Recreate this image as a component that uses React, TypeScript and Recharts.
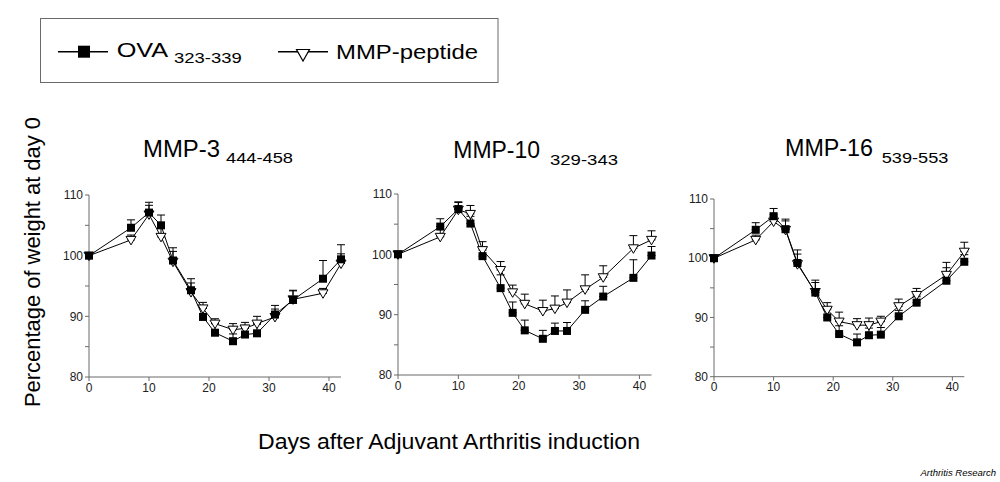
import { LineChart, Line, XAxis, YAxis, ErrorBar } from "recharts"

const days = [0, 7, 10, 12, 14, 17, 19, 21, 24, 26, 28, 31, 34, 39, 42]

// MMP-3 444-458
const mmp3Ova = [100, 104.6, 107.1, 105.0, 99.2, 94.3, 89.9, 87.3, 85.9, 87.0, 87.2, 90.3, 92.7, 96.2, 99.4]
const mmp3OvaErr = [0.3, 1.3, 1.7, 1.7, 1.5, 1.9, 1.5, 1.5, 1.2, 1.5, 1.5, 1.5, 1.6, 3.0, 2.4]
const mmp3Pep = [100, 102.6, 106.8, 103.1, 99.0, 94.0, 91.3, 88.8, 87.8, 88.0, 88.8, 89.9, 92.8, 93.8, 98.7]
const mmp3PepErr = [0.3, 0.8, 1.5, 1.5, 2.3, 1.5, 1.0, 0.8, 1.0, 1.0, 1.2, 1.3, 1.4, 0.8, 1.6]

// MMP-10 329-343
const mmp10Ova = [100, 104.6, 107.5, 105.1, 99.7, 94.4, 90.3, 87.4, 86.0, 87.3, 87.3, 90.8, 93.0, 96.1, 99.8]
const mmp10OvaErr = [0.3, 1.3, 1.2, 1.2, 1.5, 2.2, 1.8, 1.7, 1.4, 1.3, 1.4, 1.5, 1.7, 3.0, 1.5]
const mmp10Pep = [100, 102.9, 107.4, 106.7, 100.7, 97.4, 93.7, 91.8, 90.6, 91.0, 92.0, 94.2, 96.2, 101.0, 102.4]
const mmp10PepErr = [0.5, 1.3, 1.2, 1.4, 1.4, 1.4, 1.2, 1.6, 1.8, 2.1, 2.1, 2.4, 1.9, 2.1, 1.5]

// MMP-16 539-553
const mmp16Ova = [100, 104.8, 107.1, 104.9, 99.2, 94.2, 90.0, 87.2, 85.8, 87.0, 87.1, 90.2, 92.5, 96.2, 99.4]
const mmp16OvaErr = [0.3, 1.2, 1.3, 1.7, 1.5, 2.1, 1.5, 1.4, 1.4, 1.2, 1.2, 1.0, 1.0, 3.1, 1.2]
const mmp16Pep = [100, 103.1, 106.2, 104.8, 99.0, 94.3, 91.3, 89.3, 88.7, 88.7, 89.3, 91.9, 93.8, 97.2, 101.1]
const mmp16PepErr = [0.3, 0.8, 1.2, 1.5, 2.4, 1.6, 1.2, 1.6, 1.1, 1.2, 0.9, 1.2, 1.1, 1.2, 1.6]

const xTicks = [0, 10, 20, 30, 40]
const yTicks = [80, 85, 90, 95, 100, 105, 110]

const FONT = "'Liberation Sans', Arial, Helvetica, sans-serif"
const AXIS = "#6a6a6a"

function build(ova: number[], ovaErr: number[], pep: number[], pepErr: number[]) {
  return days.map((d, i) => ({
    day: d,
    ova: ova[i],
    ovaErr: [0, ovaErr[i]],
    pep: pep[i],
    pepErr: [0, pepErr[i]],
  }))
}

const Square = (props: any) => {
  const { cx, cy, index } = props
  if (cx == null || cy == null) return <g key={index} />
  return <rect key={index} x={cx - 4} y={cy - 4} width={8} height={8} fill="#000" />
}

const Tri = (props: any) => {
  const { cx, cy, index } = props
  if (cx == null || cy == null) return <g key={index} />
  return (
    <polygon
      key={index}
      points={`${cx - 5},${cy - 3.5} ${cx + 5},${cy - 3.5} ${cx},${cy + 5}`}
      fill="#fff"
      stroke="#000"
      strokeWidth={1}
    />
  )
}

type PanelProps = {
  data: any[]
  left: number
  top: number
  w: number
  h: number
}

const YW = 45
const XH = 30
const MT = 10
const MR = 10

function Panel({ data, left, top, w, h }: PanelProps) {
  return (
    <div style={{ position: "absolute", left: left - YW, top: top - MT }}>
      <LineChart
        width={YW + w + MR}
        height={MT + h + XH}
        data={data}
        margin={{ top: MT, right: MR, bottom: 0, left: 0 }}
      >
        <XAxis
          dataKey="day"
          type="number"
          domain={[0, 42]}
          ticks={xTicks}
          height={XH}
          stroke={AXIS}
          tickSize={4}
          tick={{ fill: "#222", fontSize: 12, fontFamily: FONT }}
        />
        <YAxis
          type="number"
          domain={[80, 110]}
          ticks={yTicks}
          width={YW}
          stroke={AXIS}
          tickSize={4}
          tickFormatter={(v: number) => (v % 10 === 0 ? String(v) : "")}
          tick={{ fill: "#222", fontSize: 12, fontFamily: FONT }}
          allowDataOverflow
        />
        <Line
          dataKey="pep"
          stroke="#000"
          strokeWidth={1}
          dot={Tri}
          activeDot={false}
          isAnimationActive={false}
        >
          <ErrorBar dataKey="pepErr" width={4} stroke="#000" strokeWidth={1} isAnimationActive={false} />
        </Line>
        <Line
          dataKey="ova"
          stroke="#000"
          strokeWidth={1}
          dot={Square}
          activeDot={false}
          isAnimationActive={false}
        >
          <ErrorBar dataKey="ovaErr" width={4} stroke="#000" strokeWidth={1} isAnimationActive={false} />
        </Line>
      </LineChart>
    </div>
  )
}

export default function App() {
  return (
    <div
      style={{
        position: "absolute",
        left: 0,
        top: 0,
        width: 1000,
        height: 482,
        background: "#fff",
        overflow: "hidden",
        fontFamily: FONT,
      }}
    >
      <Panel data={build(mmp3Ova, mmp3OvaErr, mmp3Pep, mmp3PepErr)} left={89.3} top={194.7} w={252} h={182} />
      <Panel data={build(mmp10Ova, mmp10OvaErr, mmp10Pep, mmp10PepErr)} left={398.3} top={194} w={253.5} h={181} />
      <Panel data={build(mmp16Ova, mmp16OvaErr, mmp16Pep, mmp16PepErr)} left={714.3} top={199} w={250.3} h={177.7} />

      <svg
        width={1000}
        height={482}
        style={{ position: "absolute", left: 0, top: 0, pointerEvents: "none" }}
        fontFamily={FONT}
      >
        {/* legend */}
        <rect x={40.5} y={18.5} width={457.5} height={64} fill="none" stroke={AXIS} strokeWidth={1} />
        <line x1={58} y1={51.7} x2={108} y2={51.7} stroke="#000" strokeWidth={1.5} />
        <rect x={78} y={45.7} width={12} height={12} fill="#000" />
        <text x={116.7} y={57} fontSize={21} textLength={51.5} lengthAdjust="spacingAndGlyphs" fill="#000">OVA</text>
        <text x={174} y={62.7} fontSize={15} textLength={67.7} lengthAdjust="spacingAndGlyphs" fill="#000">323-339</text>
        <line x1={278} y1={51.7} x2={328} y2={51.7} stroke="#000" strokeWidth={1.5} />
        <polygon points="296.5,49.5 309.5,49.5 303,61" fill="#fff" stroke="#000" strokeWidth={1.2} />
        <text x={336} y={59} fontSize={21} textLength={142} lengthAdjust="spacingAndGlyphs" fill="#000">MMP-peptide</text>

        {/* panel titles */}
        <text x={143} y={156.7} fontSize={23} textLength={77} lengthAdjust="spacingAndGlyphs" fill="#000">MMP-3</text>
        <text x={226} y={163} fontSize={15} textLength={67} lengthAdjust="spacingAndGlyphs" fill="#000">444-458</text>
        <text x={453.3} y={158} fontSize={23} textLength={86.7} lengthAdjust="spacingAndGlyphs" fill="#000">MMP-10</text>
        <text x={550} y={165} fontSize={15} textLength={68} lengthAdjust="spacingAndGlyphs" fill="#000">329-343</text>
        <text x={785} y={156} fontSize={23} textLength={88} lengthAdjust="spacingAndGlyphs" fill="#000">MMP-16</text>
        <text x={881.7} y={162.7} fontSize={15} textLength={66.7} lengthAdjust="spacingAndGlyphs" fill="#000">539-553</text>

        {/* axis titles */}
        <text
          x={0}
          y={0}
          fontSize={22}
          textAnchor="middle"
          transform="translate(40 262) rotate(-90)"
          textLength={290}
          lengthAdjust="spacingAndGlyphs"
          fill="#000"
        >
          Percentage of weight at day 0
        </text>
        <text x={258} y={449} fontSize={22} textLength={382} lengthAdjust="spacingAndGlyphs" fill="#000">
          Days after Adjuvant Arthritis induction
        </text>
        <text x={996} y={476} fontSize={9.5} fontStyle="italic" textAnchor="end" fill="#000">
          Arthritis Research
        </text>
      </svg>
    </div>
  )
}
